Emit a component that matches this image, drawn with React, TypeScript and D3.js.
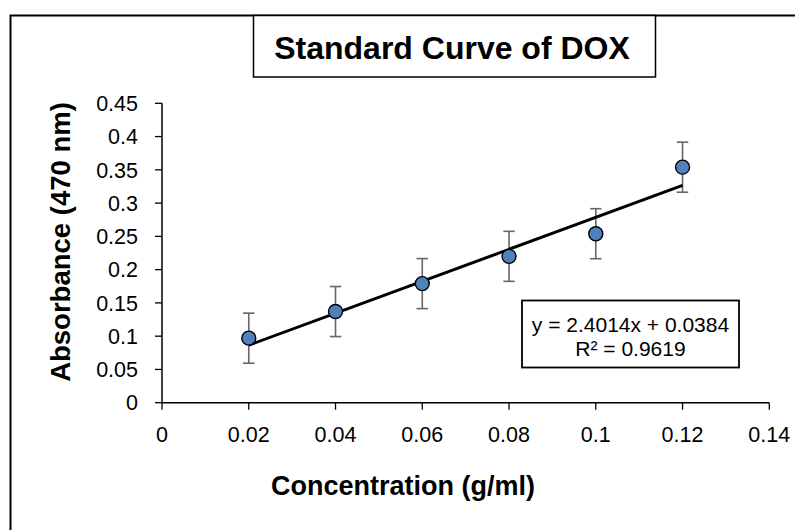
import React from "react";
import * as d3 from "d3";

const concentrations = [0.02, 0.04, 0.06, 0.08, 0.1, 0.12];
const absorbance = [0.097, 0.137, 0.179, 0.22, 0.254, 0.354];
const errors = [0.0376, 0.0376, 0.0376, 0.0376, 0.0376, 0.0376];
const xTicks = [0, 0.02, 0.04, 0.06, 0.08, 0.1, 0.12, 0.14];
const yTicks = [0, 0.05, 0.1, 0.15, 0.2, 0.25, 0.3, 0.35, 0.4, 0.45];
const slope = 2.4014;
const intercept = 0.0384;
const r2 = 0.9619;

const W = 795;
const H = 530;

export default function App() {
  const x = d3.scaleLinear().domain([0, 0.14]).range([162, 769.3]);
  const y = d3.scaleLinear().domain([0, 0.45]).range([402.7, 103.3]);
  const tickFont = "'Liberation Sans', Arial, sans-serif";
  const boldFont = "Arial, 'Liberation Sans', sans-serif";
  const x0 = concentrations[0];
  const x1 = concentrations[concentrations.length - 1];
  const trend = d3.line<number>()
    .x((d) => x(d))
    .y((d) => y(slope * d + intercept));

  return (
    <svg
      width={W}
      height={H}
      style={{ position: "absolute", left: 0, top: 0, background: "#fff" }}
    >
      <rect x={0} y={0} width={W} height={H} fill="#fff" />
      {/* outer border */}
      <path d={`M10.5,${H + 2} V15.5 H${W + 2}`} fill="none" stroke="#000" strokeWidth={2} />
      {/* title box */}
      <rect x={253.5} y={15.5} width={402} height={61.5} fill="#fff" stroke="#000" strokeWidth={1.5} />
      <text
        x={452}
        y={59}
        textAnchor="middle"
        fontFamily={boldFont}
        fontWeight="bold"
        fontSize={32}
        fill="#000"
      >
        Standard Curve of DOX
      </text>

      {/* y axis */}
      <line x1={162} x2={162} y1={y(0.45)} y2={y(0)} stroke="#000" strokeWidth={1.5} />
      {yTicks.map((t) => (
        <g key={"y" + t}>
          <line x1={155} x2={162} y1={y(t)} y2={y(t)} stroke="#000" strokeWidth={1.3} />
          <text
            x={138}
            y={y(t)}
            dy="0.36em"
            textAnchor="end"
            fontFamily={tickFont}
            fontSize={21.5}
            fill="#000"
          >
            {String(t)}
          </text>
        </g>
      ))}
      {/* x axis */}
      <line x1={x(0)} x2={x(0.14)} y1={y(0)} y2={y(0)} stroke="#000" strokeWidth={1.5} />
      {xTicks.map((t) => (
        <g key={"x" + t}>
          <line x1={x(t)} x2={x(t)} y1={y(0)} y2={y(0) + 7} stroke="#000" strokeWidth={1.3} />
          <text
            x={x(t)}
            y={442}
            textAnchor="middle"
            fontFamily={tickFont}
            fontSize={21.5}
            fill="#000"
          >
            {String(t)}
          </text>
        </g>
      ))}

      {/* axis titles */}
      <text
        x={403}
        y={495}
        textAnchor="middle"
        fontFamily={boldFont}
        fontWeight="bold"
        fontSize={27}
        fill="#000"
      >
        Concentration (g/ml)
      </text>
      <text
        transform={`translate(70,242) rotate(-90)`}
        textAnchor="middle"
        fontFamily={boldFont}
        fontWeight="bold"
        fontSize={27.5}
        fill="#000"
      >
        Absorbance (470 nm)
      </text>

      {/* error bars */}
      {concentrations.map((c, i) => (
        <g key={"e" + i} stroke="#666" strokeWidth={1.6}>
          <line x1={x(c)} x2={x(c)} y1={y(absorbance[i] + errors[i])} y2={y(absorbance[i] - errors[i])} />
          <line x1={x(c) - 5.7} x2={x(c) + 5.7} y1={y(absorbance[i] + errors[i])} y2={y(absorbance[i] + errors[i])} />
          <line x1={x(c) - 5.7} x2={x(c) + 5.7} y1={y(absorbance[i] - errors[i])} y2={y(absorbance[i] - errors[i])} />
        </g>
      ))}

      {/* trendline */}
      <path d={trend([x0, x1]) || ""} fill="none" stroke="#000" strokeWidth={3} />

      {/* points */}
      {concentrations.map((c, i) => (
        <circle
          key={"p" + i}
          cx={x(c)}
          cy={y(absorbance[i])}
          r={7}
          fill="#4f81bd"
          stroke="#000"
          strokeWidth={1.4}
        />
      ))}

      {/* equation box */}
      <rect x={522} y={300.5} width={217} height={67} fill="#fff" stroke="#000" strokeWidth={1.8} />
      <text
        x={630.5}
        y={331.5}
        textAnchor="middle"
        fontFamily={tickFont}
        fontSize={21}
        fill="#000"
      >
        {`y = ${slope}x + ${intercept}`}
      </text>
      <text
        x={630.5}
        y={355.5}
        textAnchor="middle"
        fontFamily={tickFont}
        fontSize={21}
        fill="#000"
      >
        {`R² = ${r2}`}
      </text>
    </svg>
  );
}
